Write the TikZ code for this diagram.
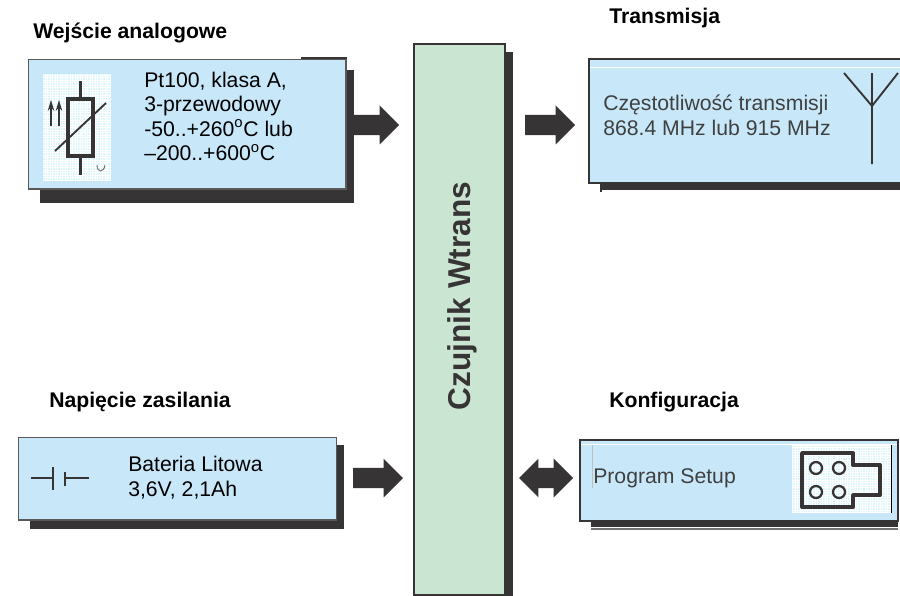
\documentclass[tikz,border=0pt]{standalone}
\usepackage{fontspec}
\setmainfont{Liberation Sans}
\usetikzlibrary{shapes.arrows,arrows.meta}
\definecolor{dark}{HTML}{373435}
\definecolor{sky}{HTML}{C8E8F9}
\definecolor{mint}{HTML}{CBE5D3}
\definecolor{speck}{HTML}{DAF6FC}
\definecolor{greytxt}{HTML}{404040}
\def\pxu{0.75pt}
\newcommand\panel[6]{\node[#6,minimum width={(#4-#2)*\pxu},minimum height={(#5-#3)*\pxu}] (#1) at ({(#2+#4)/2},{-(#3+#5)/2}) {};}
\newcommand\speckle[5]{\panel{#1}{#2}{#3}{#4}{#5}{base,fill=speck}\draw[white,line width=0.3pt,step=2.5] (#2,-#3) grid (#4,-#5);}
\tikzset{
  base/.style={rectangle,inner sep=0pt,outer sep=0pt},
  shadowbox/.style={base,fill=dark},
  panelA/.style={base,fill=sky,draw=black!65,line width=1.3pt},
  panelB/.style={base,fill=sky,draw=dark,line width=2pt},
  barbox/.style={base,fill=mint,draw=dark,line width=1.8pt},
  head/.style={inner sep=0pt,anchor=base west,font=\bfseries\fontsize{15.9}{18}\selectfont},
  body/.style={inner sep=0pt,anchor=base west,align=left,font=\fontsize{15.9}{18.4}\selectfont},
  rarrow/.style={single arrow,anchor=tip,fill=dark,inner xsep=0pt,inner ysep=9.75*\pxu,outer sep=0pt,single arrow tip angle=90,single arrow head extend=9.25*\pxu},
  darrow/.style={double arrow,fill=dark,inner xsep=0pt,inner ysep=9.75*\pxu,outer sep=0pt,double arrow tip angle=90,double arrow head extend=9.25*\pxu},
  sym/.style={line width=2.9pt,draw=dark},
  thinsym/.style={line width=1.4pt,draw=dark},
  meter/.style={-{Stealth[length=11*\pxu,width=6.5*\pxu]},line width=0.8pt,draw=dark}
}
\begin{document}
\begin{tikzpicture}[x=\pxu,y=\pxu]
\clip (0,0) rectangle (900,-596);
\fill[white] (0,0) rectangle (900,-596);

% central bar
\panel{barshadow}{420}{52}{513}{600}{shadowbox}
\panel{bar}{414}{44}{505}{595}{barbox}
\node[rotate=90,anchor=base,inner sep=0pt,text=dark,font=\bfseries\fontsize{23.7}{28}\selectfont] (bartext) at (470,-296) {Czujnik Wtrans};

% analog input
\node[head] (t1) at (33,-38) {Wejście analogowe};
\panel{s1}{40}{70}{354}{203}{shadowbox}
\panel{s1top}{301}{57}{347}{62}{shadowbox}
\panel{b1}{28.5}{59.5}{346}{189}{panelA}
\speckle{p1}{43}{74}{110}{181}
\node[body,anchor=north west] (x1) at (144,-71.5) {Pt100, klasa A,\\3-przewodowy\\-50..+260\textsuperscript{o}C lub\\–200..+600\textsuperscript{o}C};
\draw[sym] (68,-99) rectangle (93,-156);
\draw[sym] (80.5,-81) -- (80.5,-99) (80.5,-156) -- (80.5,-175);
\draw[thinsym] (55,-151) -- (106,-103);
\draw[meter] (51,-126) -- (51,-100);
\draw[meter] (59,-126) -- (59,-100);
\draw[line width=0.7pt,draw=dark!70] (97,-165) .. controls (97,-173) and (104,-173) .. (105,-165);
\node[rarrow,minimum height=45*\pxu] (a1) at (399,-125) {};

% transmission
\node[head] (t2) at (609,-23) {Transmisja};
\panel{s2}{600}{70}{905}{190}{shadowbox}
\panel{tick2}{600}{188}{602}{192}{shadowbox}
\panel{b2}{589}{59}{905}{183}{panelB}
\draw[white,line width=0.6pt] (590,-67) -- (900,-67);
\node[body,text=greytxt,anchor=north west] (x2) at (603,-95) {Częstotliwość transmisji\\868.4 MHz lub 915 MHz};
\draw[thinsym] (872,-73) -- (872,-164) (844,-73) -- (872,-106) -- (898,-73);
\node[rarrow,minimum height=50*\pxu] (a2) at (575,-125) {};

% power supply
\node[head] (t3) at (49,-407) {Napięcie zasilania};
\panel{s3}{30}{445}{344}{529}{shadowbox}
\panel{b3}{18.5}{437.5}{336.5}{520}{panelA}
\node[body,anchor=north west] (x3) at (128,-456) {Bateria Litowa\\3,6V, 2,1Ah};
\draw[thinsym] (31,-478) -- (53,-478) (53,-467) -- (53,-490) (65,-472) -- (65,-486) (65,-478) -- (89,-478);
\node[rarrow,minimum height=50*\pxu] (a3) at (403,-478) {};

% configuration
\node[head] (t4) at (609,-407) {Konfiguracja};
\draw[line width=0.8pt,draw=black!55] (591,-529) -- (898,-529);
\panel{s4}{591}{515}{898}{527}{shadowbox}
\panel{b4}{580}{440}{898}{521}{panelB}
\draw[white,line width=0.6pt] (581,-444) -- (897,-444);
\speckle{p4}{792}{445}{891}{513}
\draw[black,line width=0.6pt] (891,-445) -- (891,-513);
\draw[black!25,line width=0.5pt] (592,-445) -- (592,-488);
\node[body,text=greytxt,anchor=north west] (x4) at (593,-468) {Program Setup};
\draw[sym,line join=round] (802,-453) -- (853,-453) -- (853,-465) -- (880,-465) -- (880,-495) -- (853,-495) -- (853,-507) -- (802,-507) -- cycle;
\foreach \cx in {816,839}\foreach \cy in {468,492}{\draw[dark,line width=1.7pt] (\cx,-\cy) circle[radius=6];}
\node[darrow,minimum height=54*\pxu] (a4) at (546,-478) {};
\end{tikzpicture}
\end{document}
